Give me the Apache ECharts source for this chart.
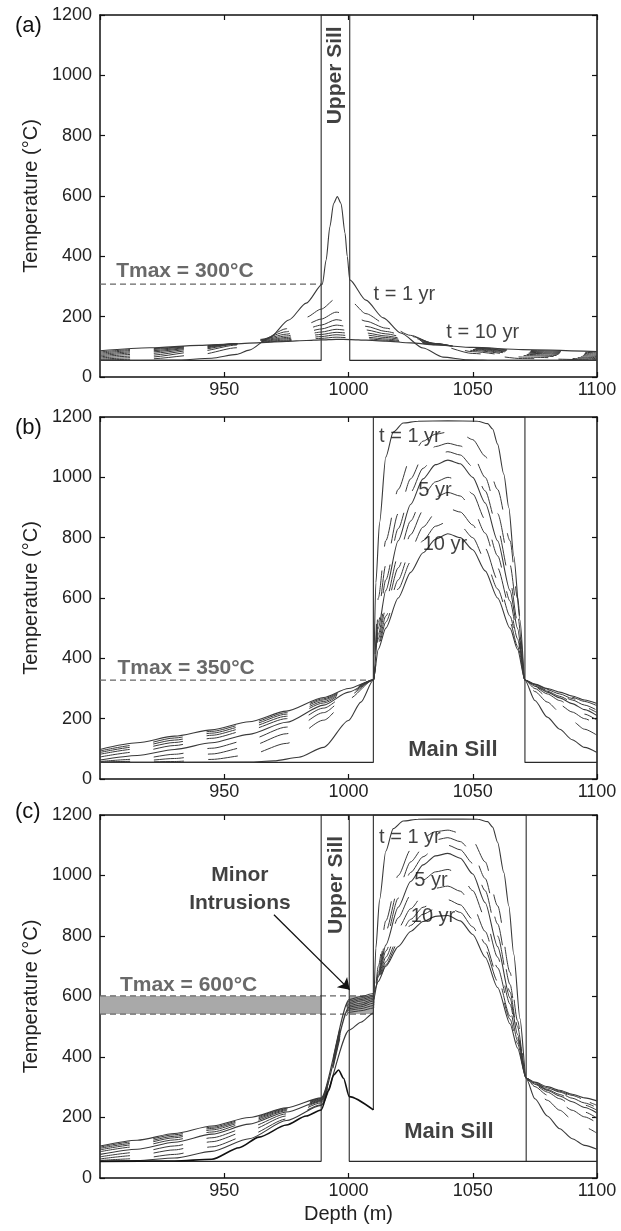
<!DOCTYPE html>
<html>
<head>
<meta charset="utf-8">
<script src="https://cdn.jsdelivr.net/npm/echarts@6/dist/echarts.min.js"></script>
<style>
  html, body { margin: 0; padding: 0; background: #fff; }
  #chart { width: 621px; height: 1231px; }
</style>
</head>
<body>
<div id="chart"></div>
<script>
// ---------- panel (a): upper sill alone ----------
var depthA = [900, 920, 940, 955, 965, 975, 983, 989, 995, 1001, 1007, 1015, 1025, 1035, 1050, 1070, 1100];
var aT2  = [56, 60, 74, 97, 122, 160, 198, 225, 260, 250, 210, 175, 138, 107, 78, 61, 56];
var aT3  = [59, 66, 85, 106, 125, 150, 175, 192, 215, 205, 185, 162, 135, 110, 84, 66, 58];
var aT4  = [63, 72, 91, 109, 124, 142, 160, 172, 190, 182, 168, 151, 131, 111, 88, 71, 61];
var aT5  = [67, 78, 95, 110, 122, 136, 150, 159, 172, 166, 156, 143, 127, 111, 91, 75, 64];
var aT6  = [71, 83, 98, 110, 120, 131, 142, 149, 158, 154, 146, 136, 123, 110, 93, 79, 68];
var aT7  = [75, 87, 100, 110, 118, 127, 136, 141, 148, 145, 139, 131, 120, 109, 95, 82, 72];
var aT8  = [79, 91, 102, 110, 116, 123, 130, 134, 140, 137, 132, 126, 117, 108, 96, 85, 76];
var aT9  = [83, 94, 103, 110, 115, 120, 125, 128, 132, 130, 127, 122, 115, 107, 97, 88, 80];
var aT10 = [87, 97, 105, 110, 114, 118, 121, 123, 125, 124, 122, 119, 113, 106, 98, 91, 84];
var aT1Depth = [900, 930, 945, 955, 960, 968, 976, 983, 989.5, 991, 992.5, 994, 995.5, 997, 998.6, 999.5, 1000.5, 1007, 1014, 1021, 1030, 1038, 1048, 1060, 1100];
var aT1      = [55, 56, 62, 75, 89, 129, 189, 245, 308, 388, 498, 575, 598, 575, 477, 400, 322, 255, 196, 146, 96, 66, 57, 55, 55];
var aInitDepth = [900, 989, 989, 1000.5, 1000.5, 1100];
var aInit      = [55, 55, 1200, 1200, 55, 55];
var aTmax = 308;

// ---------- panel (b): main sill alone ----------
var depthB = [900, 915, 930, 945, 960, 975, 990, 1000, 1010, 1012, 1015, 1020, 1025, 1030, 1035, 1040, 1045, 1050, 1055, 1060, 1065, 1068, 1071, 1075, 1080, 1085, 1090, 1095, 1100];
var bT2  = [55, 56, 58, 65, 80, 118, 195, 265, 328, 600, 790, 960, 1065, 1120, 1143, 1150, 1145, 1125, 1070, 960, 790, 600, 328, 290, 255, 222, 192, 165, 145];
var bT3  = [56, 59, 68, 83, 108, 150, 220, 276, 328, 550, 710, 880, 995, 1070, 1102, 1113, 1104, 1075, 1000, 880, 710, 550, 328, 300, 272, 246, 222, 200, 180];
var bT4  = [58, 66, 82, 102, 130, 172, 235, 283, 328, 520, 660, 830, 950, 1030, 1072, 1085, 1074, 1035, 955, 830, 660, 520, 328, 305, 282, 260, 238, 215, 195];
var bT5  = [63, 78, 98, 120, 148, 188, 245, 288, 328, 500, 625, 790, 910, 995, 1042, 1057, 1045, 1000, 915, 790, 625, 500, 328, 308, 288, 269, 250, 230, 210];
var bT6  = [73, 90, 111, 135, 163, 200, 252, 291, 328, 480, 590, 740, 855, 940, 985, 1000, 988, 945, 860, 740, 590, 480, 328, 310, 291, 274, 256, 238, 220];
var bT7  = [82, 100, 121, 145, 172, 208, 257, 294, 328, 465, 565, 700, 810, 890, 935, 950, 938, 895, 815, 700, 565, 465, 328, 312, 294, 278, 262, 245, 228];
var bT8  = [88, 107, 129, 152, 179, 215, 262, 296, 328, 450, 540, 660, 760, 835, 882, 897, 885, 842, 765, 660, 540, 450, 328, 313, 296, 282, 267, 251, 236];
var bT9  = [93, 113, 136, 158, 185, 220, 266, 298, 328, 440, 520, 630, 720, 790, 838, 853, 840, 800, 725, 630, 520, 440, 328, 314, 298, 285, 271, 257, 243];
var bT10 = [98, 120, 142, 163, 190, 225, 270, 300, 328, 430, 500, 600, 685, 750, 795, 813, 800, 760, 690, 600, 500, 430, 328, 315, 300, 288, 275, 262, 250];
var bT1Depth = [900, 960, 970, 980, 990, 1000, 1005, 1010, 1011, 1012.5, 1015, 1018, 1022, 1028, 1040, 1052, 1056, 1058, 1060, 1062.5, 1064.5, 1066.5, 1069, 1071, 1075, 1080, 1085, 1090, 1095, 1100];
var bT1      = [55, 56, 60, 72, 105, 194, 255, 328, 650, 850, 1067, 1150, 1180, 1186, 1187, 1186, 1178, 1160, 1110, 1010, 900, 740, 527, 328, 260, 205, 165, 130, 105, 88];
var bInitDepth = [900, 1010, 1010, 1071, 1071, 1100];
var bInit      = [55, 55, 1200, 1200, 55, 55];
var bTmax = 328;

// ---------- panel (c): both sills ----------
var depthC = [900, 915, 930, 945, 960, 975, 989, 1000.3, 1005, 1010, 1012, 1015, 1020, 1025, 1030, 1035, 1040, 1045, 1050, 1055, 1060, 1065, 1068, 1071.5, 1075, 1080, 1085, 1090, 1095, 1100];
var cT2  = [58, 64, 78, 103, 142, 195, 242, 548, 553, 562, 700, 850, 1000, 1085, 1125, 1145, 1150, 1140, 1115, 1045, 900, 680, 520, 330, 292, 257, 224, 194, 168, 148];
var cT3  = [63, 75, 93, 120, 157, 205, 248, 555, 560, 570, 680, 815, 955, 1045, 1092, 1118, 1125, 1112, 1075, 990, 840, 640, 500, 330, 302, 274, 248, 224, 202, 182];
var cT4  = [70, 85, 106, 133, 168, 212, 252, 560, 566, 578, 670, 790, 925, 1010, 1062, 1092, 1100, 1085, 1040, 950, 800, 615, 485, 330, 307, 284, 262, 240, 218, 198];
var cT5  = [78, 95, 118, 145, 178, 218, 255, 565, 572, 585, 665, 770, 895, 980, 1035, 1065, 1073, 1057, 1005, 910, 765, 595, 475, 330, 310, 290, 271, 252, 233, 215];
var cT6  = [87, 104, 126, 152, 184, 222, 257, 570, 578, 590, 660, 750, 860, 935, 985, 1012, 1020, 1002, 950, 860, 730, 575, 465, 330, 312, 293, 276, 258, 241, 224];
var cT7  = [93, 111, 133, 159, 189, 225, 259, 575, 585, 595, 655, 730, 825, 890, 935, 958, 965, 948, 900, 815, 695, 555, 455, 330, 314, 296, 280, 264, 248, 232];
var cT8  = [98, 116, 138, 164, 193, 228, 261, 580, 590, 600, 650, 715, 795, 855, 895, 915, 920, 903, 855, 775, 665, 535, 445, 330, 315, 298, 284, 269, 254, 240];
var cT9  = [102, 121, 143, 168, 197, 230, 263, 585, 595, 605, 645, 705, 780, 835, 872, 890, 895, 878, 830, 755, 650, 525, 440, 330, 316, 300, 287, 273, 260, 248];
var cT10 = [106, 125, 147, 172, 200, 232, 265, 590, 600, 610, 650, 700, 765, 815, 848, 865, 868, 850, 805, 730, 630, 510, 430, 330, 317, 302, 290, 277, 265, 255];
var cT1Depth = [900, 915, 930, 945, 960, 975, 989, 1000.3, 1005, 1010, 1011, 1012.5, 1015, 1018, 1022, 1028, 1040, 1052, 1056, 1058, 1060, 1062.5, 1064.5, 1066.5, 1069, 1071.5, 1075, 1080, 1085, 1090, 1095, 1100];
var cT1      = [55, 58, 66, 88, 130, 190, 240, 489, 515, 545, 760, 920, 1080, 1155, 1180, 1186, 1187, 1186, 1178, 1160, 1110, 1010, 900, 740, 527, 330, 262, 205, 163, 130, 108, 95];
var cBumpDepth = [900, 930, 945, 956, 964, 975, 983, 989, 992, 994, 996, 998, 1000.3, 1010];
var cBump      = [55, 56, 62, 100, 135, 175, 205, 225, 290, 340, 357, 330, 269, 225];
var cUpperDepth = [900, 989, 989, 1000.3, 1000.3, 1100];
var cUpper      = [55, 55, 1200, 1200, 55, 55];
var cMainDepth = [1010, 1010, 1071.5, 1071.5];
var cMain      = [225, 1200, 1200, 55];
var cTmaxHigh = 602;
var cTmaxLow = 542;
var cArrowFrom = [970, 870];
var cArrowTo = [1000.5, 622];

// ---------- labels ----------
var aLabels = [
  {text: 'Upper Sill', x: 994.8, y: 1000, rotate: 90, bold: true, size: 21},
  {text: 'Tmax = 300°C', x: 906.5, y: 351, bold: true, size: 21, color: '#444', align: 'left'},
  {text: 't = 1 yr', x: 1022.5, y: 272, size: 20},
  {text: 't = 10 yr', x: 1054, y: 146, size: 20}
];
var bLabels = [
  {text: 'Main Sill', x: 1042, y: 96, bold: true, size: 22},
  {text: 'Tmax = 350°C', x: 907, y: 368, bold: true, size: 21, color: '#444', align: 'left'},
  {text: 't = 1 yr', x: 1024.7, y: 1137, size: 20},
  {text: '5 yr', x: 1034.8, y: 958, size: 20},
  {text: '10 yr', x: 1038.8, y: 776, size: 20}
];
var cLabels = [
  {text: 'Upper Sill', x: 995.2, y: 969, rotate: 90, bold: true, size: 21},
  {text: 'Minor\nIntrusions', x: 956.3, y: 955, bold: true, size: 21, lineHeight: 28},
  {text: 'Main Sill', x: 1040.4, y: 152, bold: true, size: 22},
  {text: 'Tmax = 600°C', x: 908, y: 638, bold: true, size: 21, color: '#444', align: 'left'},
  {text: 't = 1 yr', x: 1024.7, y: 1127, size: 20},
  {text: '5 yr', x: 1033.2, y: 985, size: 20},
  {text: '10 yr', x: 1034, y: 866, size: 20}
];

var FONT = "'Liberation Sans', Arial, sans-serif";
var INK = '#3a3a3a';
var DASH = [30, 24];

function pairs(xs, ys) {
  return xs.map(function (x, k) { return [x, ys[k]]; });
}

function curve(p, xs, ys, dashed, width, color) {
  return {
    type: 'line', xAxisIndex: p * 2, yAxisIndex: p * 2,
    data: pairs(xs, ys), symbol: 'none', showSymbol: false,
    smooth: 0.25, smoothMonotone: 'x', silent: true, z: 3,
    lineStyle: {color: color || INK, width: width || 1, type: dashed ? DASH : 'solid'}
  };
}

function step(p, xs, ys) {
  return {
    type: 'line', xAxisIndex: p * 2, yAxisIndex: p * 2,
    data: pairs(xs, ys), symbol: 'none', showSymbol: false,
    smooth: false, silent: true, z: 3,
    lineStyle: {color: '#2a2a2a', width: 1.1}
  };
}

function tmaxLine(p, y, x0, x1) {
  return {
    type: 'line', xAxisIndex: p * 2, yAxisIndex: p * 2,
    data: [[x0, y], [x1, y]], symbol: 'none', showSymbol: false, silent: true, z: 2,
    lineStyle: {color: '#666', width: 1.2, type: [6, 4]}
  };
}

function labels(p, items) {
  return {
    type: 'scatter', xAxisIndex: p * 2, yAxisIndex: p * 2,
    symbolSize: 0, silent: true, z: 10,
    data: items.map(function (it) {
      return {
        value: [it.x, it.y],
        label: {
          show: true, position: 'inside', formatter: it.text,
          fontFamily: FONT, fontSize: it.size, fontWeight: it.bold ? 'bold' : 'normal',
          color: it.color || '#111', rotate: it.rotate || 0,
          align: it.align || 'center', verticalAlign: 'middle',
          lineHeight: it.lineHeight || it.size
        }
      };
    })
  };
}

function plain(v) { return String(v); }

function axesFor(i) {
  var line = {onZero: false, lineStyle: {color: '#111', width: 1.5}};
  var tick = {inside: true, length: 5, lineStyle: {color: '#111', width: 1.2}};
  var xb = {
    gridIndex: i, type: 'value', position: 'bottom', min: 900, max: 1100, interval: 50,
    splitLine: {show: false}, axisLine: line, axisTick: tick,
    axisLabel: {fontFamily: FONT, fontSize: 18, color: '#222', margin: 4, showMinLabel: false, formatter: plain}
  };
  if (i === 2) {
    xb.name = 'Depth (m)';
    xb.nameLocation = 'middle';
    xb.nameGap = 26;
    xb.nameTextStyle = {fontFamily: FONT, fontSize: 20, color: '#222'};
  }
  var xt = {
    gridIndex: i, type: 'value', position: 'top', min: 900, max: 1100, interval: 50,
    splitLine: {show: false}, axisLine: line, axisTick: tick, axisLabel: {show: false}
  };
  var yl = {
    gridIndex: i, type: 'value', position: 'left', min: 0, max: 1200, interval: 200,
    splitLine: {show: false}, axisLine: line, axisTick: tick,
    axisLabel: {fontFamily: FONT, fontSize: 18, color: '#222', margin: 8, formatter: plain},
    name: 'Temperature (°C)', nameLocation: 'middle', nameRotate: 90, nameGap: 41,
    nameTextStyle: {fontFamily: FONT, fontSize: 20, color: '#222'}
  };
  var yr = {
    gridIndex: i, type: 'value', position: 'right', min: 0, max: 1200, interval: 200,
    splitLine: {show: false}, axisLine: line, axisTick: tick, axisLabel: {show: false}
  };
  return {x: [xb, xt], y: [yl, yr]};
}

var xAxes = [], yAxes = [];
[0, 1, 2].forEach(function (i) {
  var a = axesFor(i);
  xAxes = xAxes.concat(a.x);
  yAxes = yAxes.concat(a.y);
});

var series = [];

// (a)
series.push(tmaxLine(0, aTmax, 900, 989));
series.push(step(0, aInitDepth, aInit));
[aT2, aT3, aT4, aT5, aT6, aT7, aT8, aT9].forEach(function (t) {
  series.push(curve(0, depthA, t, true));
});
series.push(curve(0, depthA, aT10, false, 1.2));
series.push(curve(0, aT1Depth, aT1, false, 1.1));
series.push(labels(0, aLabels));

// (b)
series.push(tmaxLine(1, bTmax, 900, 1010));
series.push(step(1, bInitDepth, bInit));
[bT2, bT3, bT4, bT6, bT7, bT8, bT9].forEach(function (t) {
  series.push(curve(1, depthB, t, true));
});
series.push(curve(1, depthB, bT5, false, 1.1));
series.push(curve(1, depthB, bT10, false, 1.1));
series.push(curve(1, bT1Depth, bT1, false, 1.1));
series.push(labels(1, bLabels));

// (c)
var band = tmaxLine(2, cTmaxHigh, 900, 1010);
band.markArea = {
  silent: true,
  itemStyle: {color: '#a9a9a9'},
  data: [
    [{xAxis: 900, yAxis: cTmaxLow}, {xAxis: 989, yAxis: cTmaxHigh}],
    [{xAxis: 1000.3, yAxis: cTmaxLow}, {xAxis: 1010, yAxis: cTmaxHigh}]
  ]
};
series.push(band);
series.push(tmaxLine(2, cTmaxLow, 900, 1010));
series.push(step(2, cUpperDepth, cUpper));
series.push(step(2, cMainDepth, cMain));
[cT2, cT3, cT4, cT6, cT7, cT8, cT9].forEach(function (t) {
  series.push(curve(2, depthC, t, true));
});
series.push(curve(2, depthC, cT5, false, 1.1));
series.push(curve(2, depthC, cT10, false, 1.1));
series.push(curve(2, cT1Depth, cT1, false, 1.1));
series.push(curve(2, cBumpDepth, cBump, false, 1.6, '#111'));
series.push({
  type: 'lines', coordinateSystem: 'cartesian2d', xAxisIndex: 4, yAxisIndex: 4,
  silent: true, z: 8, symbol: ['none', 'arrow'], symbolSize: 11,
  lineStyle: {color: '#111', width: 1.3, opacity: 1},
  data: [{coords: [cArrowFrom, cArrowTo]}]
});
series.push(labels(2, cLabels));

var chart = echarts.init(document.getElementById('chart'));
chart.setOption({
  animation: false,
  backgroundColor: '#fff',
  textStyle: {fontFamily: FONT},
  title: [
    {text: '(a)', left: 10, top: 10, textStyle: {fontFamily: FONT, fontSize: 22, fontWeight: 'normal', color: '#111'}},
    {text: '(b)', left: 10, top: 412, textStyle: {fontFamily: FONT, fontSize: 22, fontWeight: 'normal', color: '#111'}},
    {text: '(c)', left: 10, top: 796, textStyle: {fontFamily: FONT, fontSize: 22, fontWeight: 'normal', color: '#111'}}
  ],
  grid: [
    {left: 100, top: 15, width: 497, height: 362},
    {left: 100, top: 417, width: 497, height: 362},
    {left: 100, top: 815, width: 497, height: 363}
  ],
  xAxis: xAxes,
  yAxis: yAxes,
  series: series
});
</script>
</body>
</html>
